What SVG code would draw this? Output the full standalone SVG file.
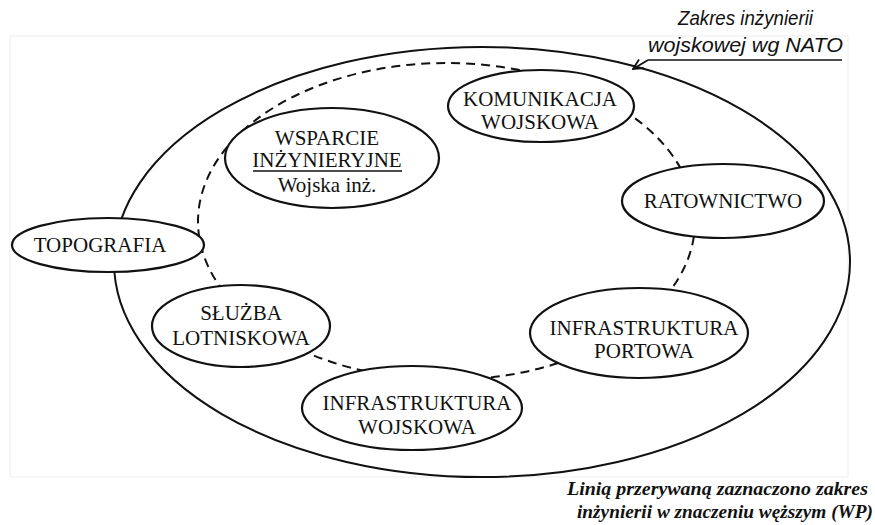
<svg xmlns="http://www.w3.org/2000/svg" width="875" height="525" viewBox="0 0 875 525">
<style>
.node{fill:#fff;stroke:#111;stroke-width:2.2}
.t{font-family:"Liberation Serif","Times New Roman",serif;font-size:21px;fill:#111;text-anchor:middle}
.note{font-family:"Liberation Sans",Arial,sans-serif;font-style:italic;font-size:21px;fill:#111}
.note2{font-family:"Liberation Serif","Times New Roman",serif;font-style:italic;font-weight:bold;font-size:19px;fill:#111}
</style>
<defs>
<marker id="arr" viewBox="0 0 12 12" refX="11" refY="6" markerWidth="12" markerHeight="12" markerUnits="userSpaceOnUse" orient="auto">
<path d="M1,1 L11,6 L1,11" fill="none" stroke="#111" stroke-width="1.8"/>
</marker>
</defs>
<rect x="0" y="0" width="875" height="525" fill="#fff"/>
<rect x="10" y="36" width="838" height="441" fill="#fff" stroke="#eeeeee" stroke-width="1"/>
<g id="scope">
<ellipse id="wp-scope" cx="446.5" cy="221.5" rx="248.5" ry="158.5" fill="none" stroke="#111" stroke-width="2" stroke-dasharray="9 6"/>
<ellipse id="nato-scope" cx="482" cy="262" rx="368" ry="215" fill="none" stroke="#111" stroke-width="2"/>
</g>
<g id="connectors">
<line x1="842" y1="60" x2="648" y2="60" stroke="#111" stroke-width="1.6"/>
<line x1="648" y1="60" x2="633" y2="69" stroke="#111" stroke-width="1.6" marker-end="url(#arr)"/>
</g>
<g id="n-topografia">
<ellipse class="node" cx="108" cy="245" rx="96" ry="27"/>
<text class="t" x="100" y="252">TOPOGRAFIA</text>
</g>
<g id="n-wsparcie">
<ellipse class="node" cx="332" cy="158" rx="107" ry="50"/>
<text class="t" x="327" y="145">WSPARCIE</text>
<text class="t" x="327" y="167">INŻYNIERYJNE</text>
<line x1="253" y1="171" x2="402" y2="171" stroke="#111" stroke-width="1.3"/>
<text class="t" x="327" y="192">Wojska inż.</text>
</g>
<g id="n-komunikacja">
<ellipse class="node" cx="541" cy="106" rx="93" ry="36"/>
<text class="t" x="540" y="106">KOMUNIKACJA</text>
<text class="t" x="540" y="129">WOJSKOWA</text>
</g>
<g id="n-ratownictwo">
<ellipse class="node" cx="723" cy="201" rx="101" ry="37"/>
<text class="t" x="723" y="208">RATOWNICTWO</text>
</g>
<g id="n-portowa">
<ellipse class="node" cx="639" cy="333" rx="109" ry="45"/>
<text class="t" x="644" y="335">INFRASTRUKTURA</text>
<text class="t" x="644" y="358">PORTOWA</text>
</g>
<g id="n-wojskowa">
<ellipse class="node" cx="412" cy="408" rx="110" ry="42"/>
<text class="t" x="417" y="410">INFRASTRUKTURA</text>
<text class="t" x="417" y="434">WOJSKOWA</text>
</g>
<g id="n-lotniskowa">
<ellipse class="node" cx="241" cy="326" rx="89" ry="41"/>
<text class="t" x="241" y="320">SŁUŻBA</text>
<text class="t" x="241" y="345">LOTNISKOWA</text>
</g>
<g id="labels">
<text class="note" x="678" y="25" textLength="135" lengthAdjust="spacingAndGlyphs">Zakres inżynierii</text>
<text class="note" x="648" y="52" textLength="195" lengthAdjust="spacingAndGlyphs">wojskowej wg NATO</text>
<text class="note2" x="567" y="495" textLength="301" lengthAdjust="spacingAndGlyphs">Linią przerywaną zaznaczono zakres</text>
<text class="note2" x="577" y="518" textLength="296" lengthAdjust="spacingAndGlyphs">inżynierii w znaczeniu węższym (WP)</text>
</g>
</svg>
